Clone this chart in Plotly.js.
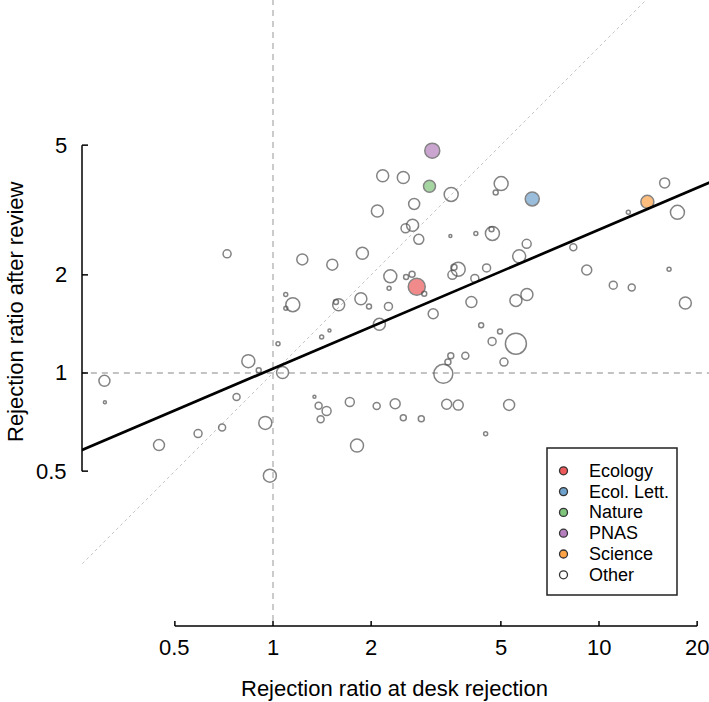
<!DOCTYPE html>
<html>
<head>
<meta charset="utf-8">
<script src="https://cdn.plot.ly/plotly-3.0.1.min.js"></script>
<style>html,body{margin:0;padding:0;background:#fff;}#chart{width:709px;height:702px;}</style>
</head>
<body>
<div id="chart"></div>
<script>
// ---- Data ----
const journalNames = ['Ecology', 'Ecol. Lett.', 'Nature', 'PNAS', 'Science'];
const journalDesk = [2.76, 6.24, 3.02, 3.08, 14.07];
const journalReview = [1.84, 3.42, 3.74, 4.81, 3.35];
const journalWeight = [17, 14, 12, 15, 13];

const otherDesk = [2.17, 2.51, 3.52, 5.01, 4.82, 15.9, 12.3, 17.4, 2.09, 2.71,
  2.68, 2.55, 2.80, 3.50, 4.19, 4.71, 4.68, 1.88, 6.00, 5.69,
  8.34, 2.29, 2.56, 2.67, 2.91, 2.27, 3.70, 3.59, 3.55, 4.16,
  4.52, 9.17, 16.4, 11.06, 12.6, 18.4, 1.86, 1.97, 2.26, 3.10,
  4.06, 5.56, 6.01, 2.12, 4.35, 4.97, 4.70, 5.56, 3.51, 3.89,
  3.44, 5.11, 3.33, 1.72, 1.34, 1.38, 1.46, 1.40, 2.08, 2.37,
  2.51, 2.85, 3.41, 3.70, 5.30, 4.49, 1.81, 0.304, 0.305, 0.447,
  0.589, 0.698, 0.773, 0.840, 0.904, 0.947, 0.978, 1.036, 1.07, 0.723,
  1.23, 1.52, 1.094, 1.15, 1.095, 1.59, 1.56, 1.41, 1.49];
const otherReview = [4.03, 3.98, 3.53, 3.81, 3.58, 3.83, 3.11, 3.11, 3.14, 3.30,
  2.84, 2.78, 2.57, 2.63, 2.68, 2.68, 2.76, 2.33, 2.49, 2.28,
  2.43, 1.98, 1.97, 2.01, 1.75, 1.82, 2.08, 2.11, 2.00, 1.95,
  2.10, 2.07, 2.08, 1.86, 1.83, 1.64, 1.69, 1.60, 1.60, 1.52,
  1.65, 1.67, 1.74, 1.41, 1.40, 1.34, 1.25, 1.23, 1.13, 1.13,
  1.08, 1.08, 0.994, 0.815, 0.846, 0.794, 0.765, 0.721, 0.792, 0.805,
  0.729, 0.724, 0.802, 0.797, 0.798, 0.651, 0.599, 0.946, 0.813, 0.601,
  0.652, 0.681, 0.844, 1.087, 1.02, 0.703, 0.484, 1.23, 1.004, 2.32,
  2.23, 2.15, 1.74, 1.62, 1.58, 1.62, 1.65, 1.29, 1.35];
const otherWeight = [12, 12, 14, 14, 5, 10, 4, 14, 12, 11,
  12, 9, 10, 3, 4, 14, 5, 12, 9, 13,
  7, 13, 5, 6, 5, 4, 14, 6, 9, 8,
  8, 10, 4, 8, 7, 12, 12, 5, 8, 10,
  11, 12, 12, 12, 5, 5, 8, 21, 6, 7,
  6, 8, 19, 9, 3, 7, 9, 7, 7, 10,
  6, 6, 10, 10, 11, 4, 13, 11, 3, 11,
  8, 7, 7, 13, 5, 13, 13, 4, 12, 8,
  11, 11, 4, 14, 4, 12, 5, 4, 3];

const fitIntercept = 0.0136;  // log10 scale
const fitSlope = 0.426;

const xTickVals = [0.5, 1, 2, 5, 10, 20];
const xTickText = ['0.5', '1', '2', '5', '10', '20'];
const yTickVals = [0.5, 1, 2, 5];
const yTickText = ['0.5', '1', '2', '5'];

const xTitle = 'Rejection ratio at desk rejection';
const yTitle = 'Rejection ratio after review';
const otherName = 'Other';

// ---- Styles ----
const journalColors = ['rgba(228,26,28,0.72)', 'rgba(55,126,184,0.72)', 'rgba(77,175,74,0.72)',
  'rgba(152,78,163,0.72)', 'rgba(255,127,0,0.72)'];
const ringColor = '#505050';
const FONT = 'Liberation Sans, Arial, Helvetica, sans-serif';
const FS = 22;
const W = 709, H = 702;
const ML = 82, MB = 76;
const PW = W - ML, PH = H - MB;
const XR = [-0.5859, 1.3374];
const YR = [-0.7761, 1.1442];
const xp = v => (Math.log10(v) - XR[0]) / (XR[1] - XR[0]);
const yp = v => (Math.log10(v) - YR[0]) / (YR[1] - YR[0]);
const px2x = p => (p - ML) / PW;
const px2y = p => (PH - p) / PH;

// ---- Traces ----
const lineSpan = [0.05, 200];
const traces = [
  {x: lineSpan, y: [1, 1], mode: 'lines', line: {color: '#b0b0b0', width: 1.3, dash: '6px,5px'}, hoverinfo: 'skip', showlegend: false},
  {x: [1, 1], y: lineSpan, mode: 'lines', line: {color: '#b0b0b0', width: 1.3, dash: '6px,5px'}, hoverinfo: 'skip', showlegend: false},
  {x: lineSpan, y: lineSpan, mode: 'lines', line: {color: '#c4c4c4', width: 1, dash: 'dot'}, hoverinfo: 'skip', showlegend: false},
  {x: otherDesk, y: otherReview, mode: 'markers', name: otherName, showlegend: false,
    marker: {size: otherWeight, color: 'rgba(0,0,0,0)', line: {color: ringColor, width: 1.5}}},
  {x: journalDesk, y: journalReview, text: journalNames, mode: 'markers', showlegend: false,
    marker: {size: journalWeight, color: journalColors, line: {color: ringColor, width: 1.5}}},
  {x: lineSpan, y: lineSpan.map(v => Math.pow(10, fitIntercept + fitSlope * Math.log10(v))),
    mode: 'lines', line: {color: '#000', width: 2.7}, hoverinfo: 'skip', showlegend: false}
];

// ---- Axes drawn R-style ----
const shapes = [];
const annotations = [];
const axisLine = {color: '#000', width: 1.5};
shapes.push({type: 'line', xref: 'paper', yref: 'paper', x0: xp(xTickVals[0]), x1: xp(xTickVals[xTickVals.length - 1]), y0: 0, y1: 0, line: axisLine});
xTickVals.forEach((v, i) => {
  shapes.push({type: 'line', xref: 'paper', yref: 'paper', x0: xp(v), x1: xp(v), y0: 0, y1: 5 / PH, line: axisLine});
  annotations.push({xref: 'paper', yref: 'paper', x: xp(v), y: px2y(648), xanchor: 'center', yanchor: 'middle',
    text: xTickText[i], showarrow: false, font: {family: FONT, size: FS, color: '#000'}});
});
shapes.push({type: 'line', xref: 'paper', yref: 'paper', x0: 0, x1: 0, y0: yp(yTickVals[0]), y1: yp(yTickVals[yTickVals.length - 1]), line: axisLine});
yTickVals.forEach((v, i) => {
  shapes.push({type: 'line', xref: 'paper', yref: 'paper', x0: 0, x1: 6 / PW, y0: yp(v), y1: yp(v), line: axisLine});
  annotations.push({xref: 'paper', yref: 'paper', x: px2x(69), y: yp(v), xanchor: 'right', yanchor: 'middle',
    text: yTickText[i], showarrow: false, font: {family: FONT, size: FS, color: '#000'}});
});
annotations.push({xref: 'paper', yref: 'paper', x: px2x(394), y: px2y(688), xanchor: 'center', yanchor: 'middle',
  text: xTitle, showarrow: false, font: {family: FONT, size: FS, color: '#000'}});
annotations.push({xref: 'paper', yref: 'paper', x: px2x(15), y: px2y(312), xanchor: 'center', yanchor: 'middle', textangle: -90,
  text: yTitle, showarrow: false, font: {family: FONT, size: FS, color: '#000'}});

// ---- Legend (R-style box) ----
shapes.push({type: 'rect', xref: 'paper', yref: 'paper', x0: px2x(547), x1: px2x(677), y0: px2y(595), y1: px2y(448),
  line: {color: '#222', width: 1.5}, fillcolor: 'rgba(255,255,255,1)'});
const legNames = journalNames.concat([otherName]);
const legFills = journalColors.concat(['rgba(0,0,0,0)']);
legNames.forEach((nm, i) => {
  const cy = 470.8 + 20.8 * i, cx = 563.5, r = 4;
  shapes.push({type: 'circle', xref: 'paper', yref: 'paper', x0: px2x(cx - r), x1: px2x(cx + r), y0: px2y(cy + r), y1: px2y(cy - r),
    fillcolor: legFills[i], line: {color: '#333', width: 1.3}});
  annotations.push({xref: 'paper', yref: 'paper', x: px2x(587), y: px2y(cy), xanchor: 'left', yanchor: 'middle',
    text: nm, showarrow: false, font: {family: FONT, size: 18, color: '#000'}});
});

const layout = {
  width: W, height: H,
  margin: {l: ML, r: 0, t: 0, b: MB, pad: 0},
  paper_bgcolor: '#fff', plot_bgcolor: '#fff',
  showlegend: false,
  xaxis: {type: 'log', range: XR, visible: false, showgrid: false, zeroline: false},
  yaxis: {type: 'log', range: YR, visible: false, showgrid: false, zeroline: false},
  shapes: shapes,
  annotations: annotations,
  font: {family: FONT}
};

Plotly.newPlot('chart', traces, layout, {displayModeBar: false, staticPlot: true});
</script>
</body>
</html>
